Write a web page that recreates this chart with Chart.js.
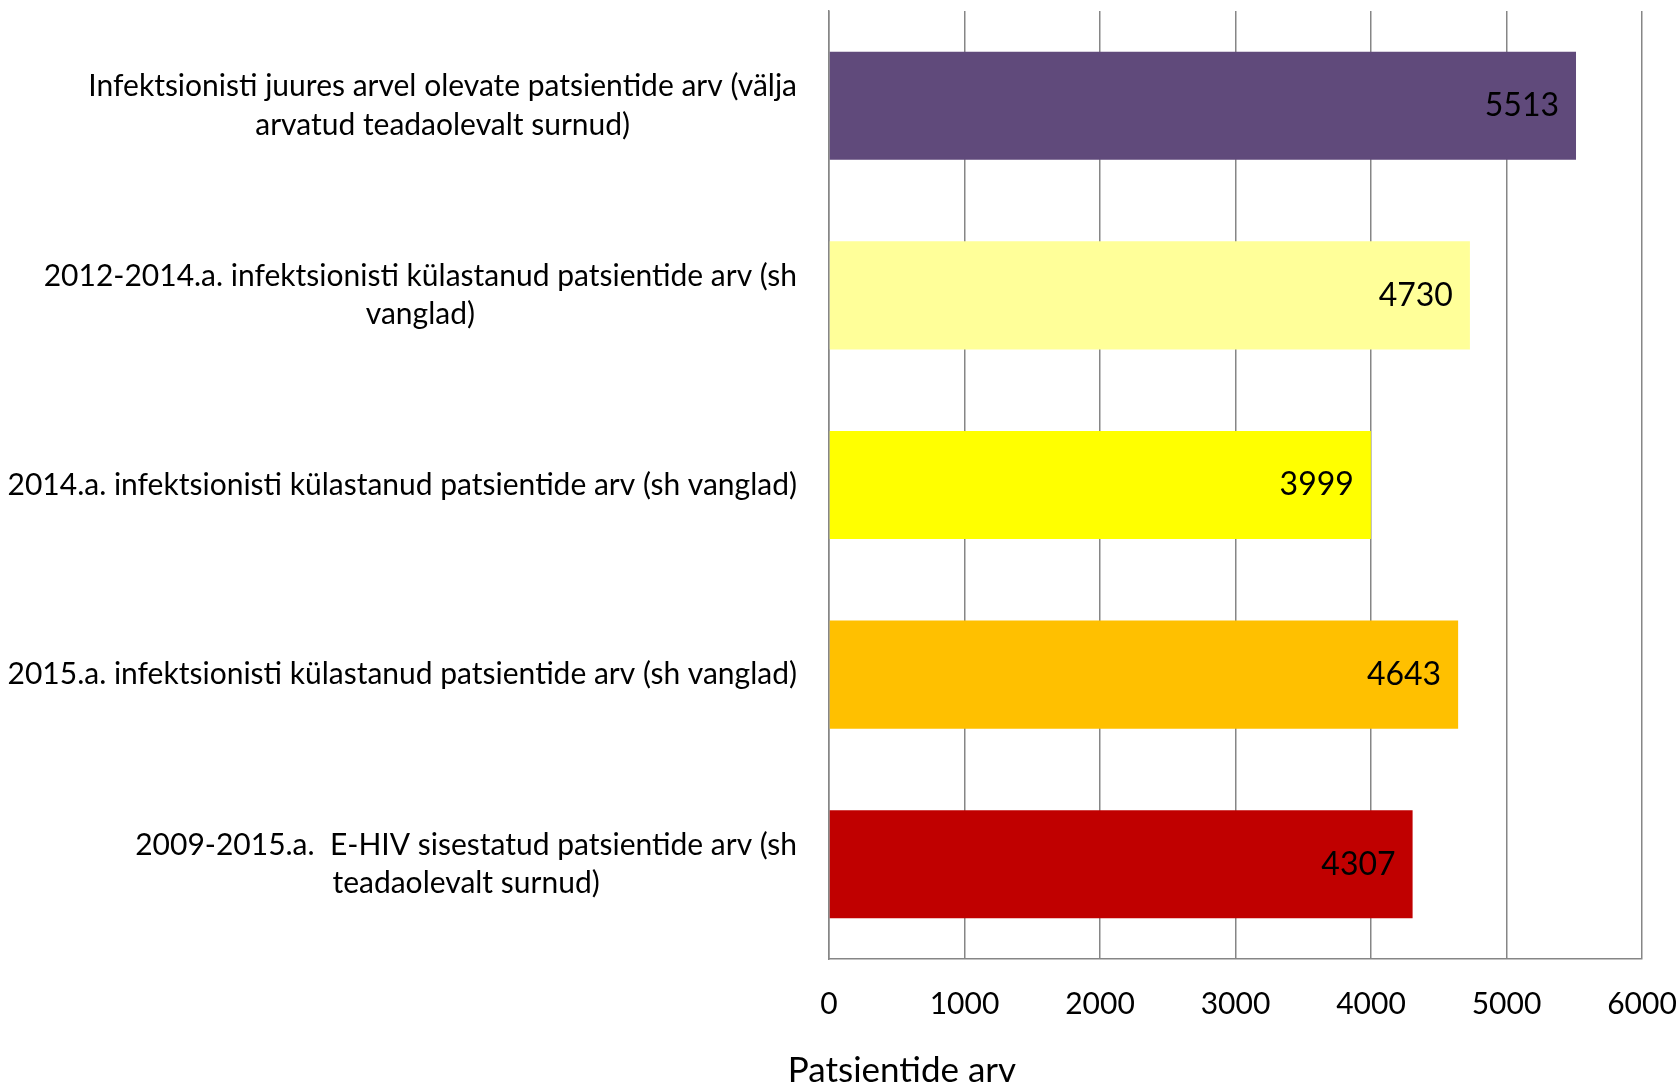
<!DOCTYPE html>
<html>
<head>
<meta charset="utf-8">
<script src="https://cdn.jsdelivr.net/npm/chart.js@4"></script>
<style>
  html, body { margin: 0; padding: 0; background: #fff; }
  #wrap { width: 1677px; height: 1089px; }
</style>
</head>
<body>
<div id="wrap"><canvas id="myChart" width="1677" height="1089"></canvas></div>
<script>
const categories = [
  ['Infektsionisti juures arvel olevate patsientide arv (välja', 'arvatud teadaolevalt surnud)'],
  ['2012-2014.a. infektsionisti külastanud patsientide arv (sh', 'vanglad)'],
  ['2014.a. infektsionisti külastanud patsientide arv (sh vanglad)'],
  ['2015.a. infektsionisti külastanud patsientide arv (sh vanglad)'],
  ['2009-2015.a.  E-HIV sisestatud patsientide arv (sh', 'teadaolevalt surnud)']
];
const values = [5513, 4730, 3999, 4643, 4307];
const barColors = ['#604A7B', '#FFFF99', '#FFFF00', '#FFC000', '#C00000'];
const axisTitle = 'Patsientide arv';

const FONT = 'Lato';
const FONT_SIZE = 30;

const ctx = document.getElementById('myChart').getContext('2d');

new Chart(ctx, {
  type: 'bar',
  data: {
    labels: categories,
    datasets: [{
      data: values,
      backgroundColor: barColors,
      borderWidth: 0,
      barPercentage: 0.57,
      categoryPercentage: 1
    }]
  },
  options: {
    indexAxis: 'y',
    responsive: false,
    devicePixelRatio: 1,
    animation: false,
    layout: { padding: { left: 829, right: 35, top: 11, bottom: 69 } },
    scales: {
      x: {
        min: 0,
        max: 6000,
        ticks: {
          stepSize: 1000,
          padding: 27,
          color: '#000',
          font: { family: FONT, size: FONT_SIZE },
          callback: v => String(v)
        },
        grid: { color: '#868686', lineWidth: 1.5, drawTicks: false },
        border: { color: '#868686', width: 1.5 },
        afterFit(scale) {
          scale.height = 61;
          scale.paddingLeft = 0;
          scale.paddingRight = 0;
        }
      },
      y: {
        ticks: { display: false },
        grid: { display: false },
        border: { color: '#868686', width: 1.5 },
        afterFit(scale) {
          scale.width = 0;
          scale.paddingTop = 0;
          scale.paddingBottom = 0;
        }
      }
    },
    plugins: {
      legend: { display: false },
      tooltip: { enabled: false }
    }
  },
  plugins: [{
    id: 'labelsAndTitle',
    afterDraw(chart) {
      const { ctx, scales } = chart;
      const meta = chart.getDatasetMeta(0);
      ctx.save();
      ctx.fillStyle = '#000';
      ctx.textBaseline = 'middle';

      // value labels, inside end of bars
      ctx.font = '32px ' + FONT;
      ctx.textAlign = 'right';
      meta.data.forEach((bar, i) => {
        ctx.fillText(String(values[i]), bar.x - 17, bar.y);
      });

      // category labels, right edge fixed, lines centred on each other
      ctx.font = FONT_SIZE + 'px ' + FONT;
      const rightEdge = 797;
      const lineH = 38.5;
      ctx.textAlign = 'center';
      categories.forEach((lines, i) => {
        const yc = scales.y.getPixelForValue(i);
        const maxW = Math.max(...lines.map(l => ctx.measureText(l).width));
        const cx = rightEdge - maxW / 2;
        const y0 = yc - (lines.length - 1) * lineH / 2;
        lines.forEach((l, j) => ctx.fillText(l, cx, y0 + j * lineH));
      });

      // axis title
      ctx.font = '35px ' + FONT;
      ctx.fillText(axisTitle, 902, 1071);
      ctx.restore();
    }
  }]
});
</script>
</body>
</html>
